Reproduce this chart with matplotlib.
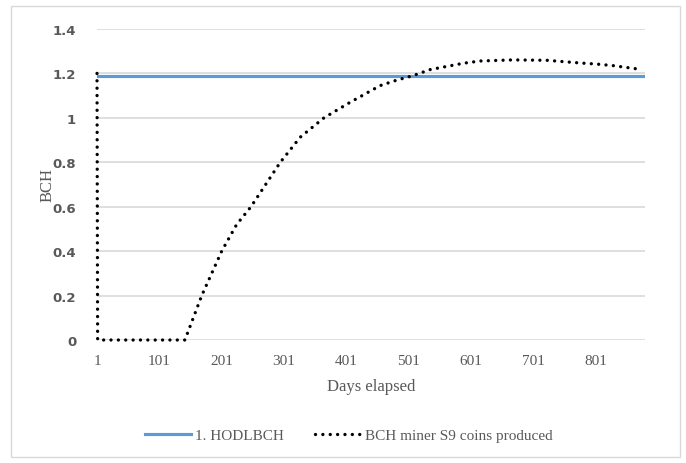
import matplotlib.pyplot as plt
from matplotlib.patches import Rectangle

# HODL position: constant BCH held over the period
hodl_days = [1, 880]
hodl_bch = [1.19, 1.19]

# cumulative BCH mined by an S9, sampled by day
miner_days = [1, 2, 142, 169, 201, 225, 248, 295, 327, 365, 407, 455, 482,
              508, 535, 563, 589, 616, 669, 723, 776, 803, 829, 876]
miner_bch = [1.2, 0.0, 0.0, 0.2, 0.4, 0.52, 0.6, 0.8, 0.913, 1.0, 1.07, 1.145,
             1.17, 1.19, 1.217, 1.232, 1.246, 1.256, 1.261, 1.259, 1.247,
             1.242, 1.235, 1.217]

x_ticks = [1, 101, 201, 301, 401, 501, 601, 701, 801]
y_ticks = [0, 0.2, 0.4, 0.6, 0.8, 1.0, 1.2, 1.4]
y_labels = ['0', '0.2', '0.4', '0.6', '0.8', '1', '1.2', '1.4']

grey = '#595959'
serif = ['Liberation Serif', 'DejaVu Serif']

fig = plt.figure(figsize=(6.86, 4.64), dpi=100)
fig.patches.append(Rectangle((11 / 686, 6 / 464), 669 / 686, 451 / 464,
                             transform=fig.transFigure, fill=False,
                             edgecolor='#d9d9d9', linewidth=1))

ax = fig.add_axes([97 / 686, 123 / 464, 548 / 686, 311 / 464])

ax.plot(hodl_days, hodl_bch, color='#5b9bd5', linewidth=2.25,
        label='1. HODLBCH', zorder=3)
# unclipped so the dots on the axis edges stay whole
ax.plot(miner_days, miner_bch, color='black', linewidth=2.4,
        linestyle=(0, (0.01, 2.2)), dash_capstyle='round',
        label='BCH miner S9 coins produced', zorder=4, clip_on=False)

ax.set_xlim(1, 880)
ax.set_ylim(0, 1.4)
ax.set_xticks(x_ticks)
ax.set_xticklabels([str(t) for t in x_ticks], fontfamily=serif,
                   fontsize=11, color=grey)
ax.set_yticks(y_ticks)
ax.set_yticklabels(y_labels, fontsize=9.5, fontweight='bold', color=grey)
ax.tick_params(axis='both', length=0)
ax.tick_params(axis='x', pad=10)
ax.tick_params(axis='y', pad=15)

ax.grid(axis='y', color='#d9d9d9', linewidth=1.2)
ax.set_axisbelow(True)
for side in ['top', 'right', 'left', 'bottom']:
    ax.spines[side].set_visible(False)

ax.set_xlabel('Days elapsed', fontfamily=serif, fontsize=12,
              color=grey, labelpad=8)
ax.set_ylabel('BCH', fontfamily=serif, fontsize=12, color=grey,
              labelpad=-2)

fig.legend(loc='center', bbox_to_anchor=(349 / 686, 1 - 436 / 464), ncol=2,
           frameon=False, handlelength=3.0, columnspacing=2.0,
           handletextpad=0.3,
           prop={'family': serif, 'size': 11}, labelcolor=grey)

fig.savefig('out.png', dpi=100)
